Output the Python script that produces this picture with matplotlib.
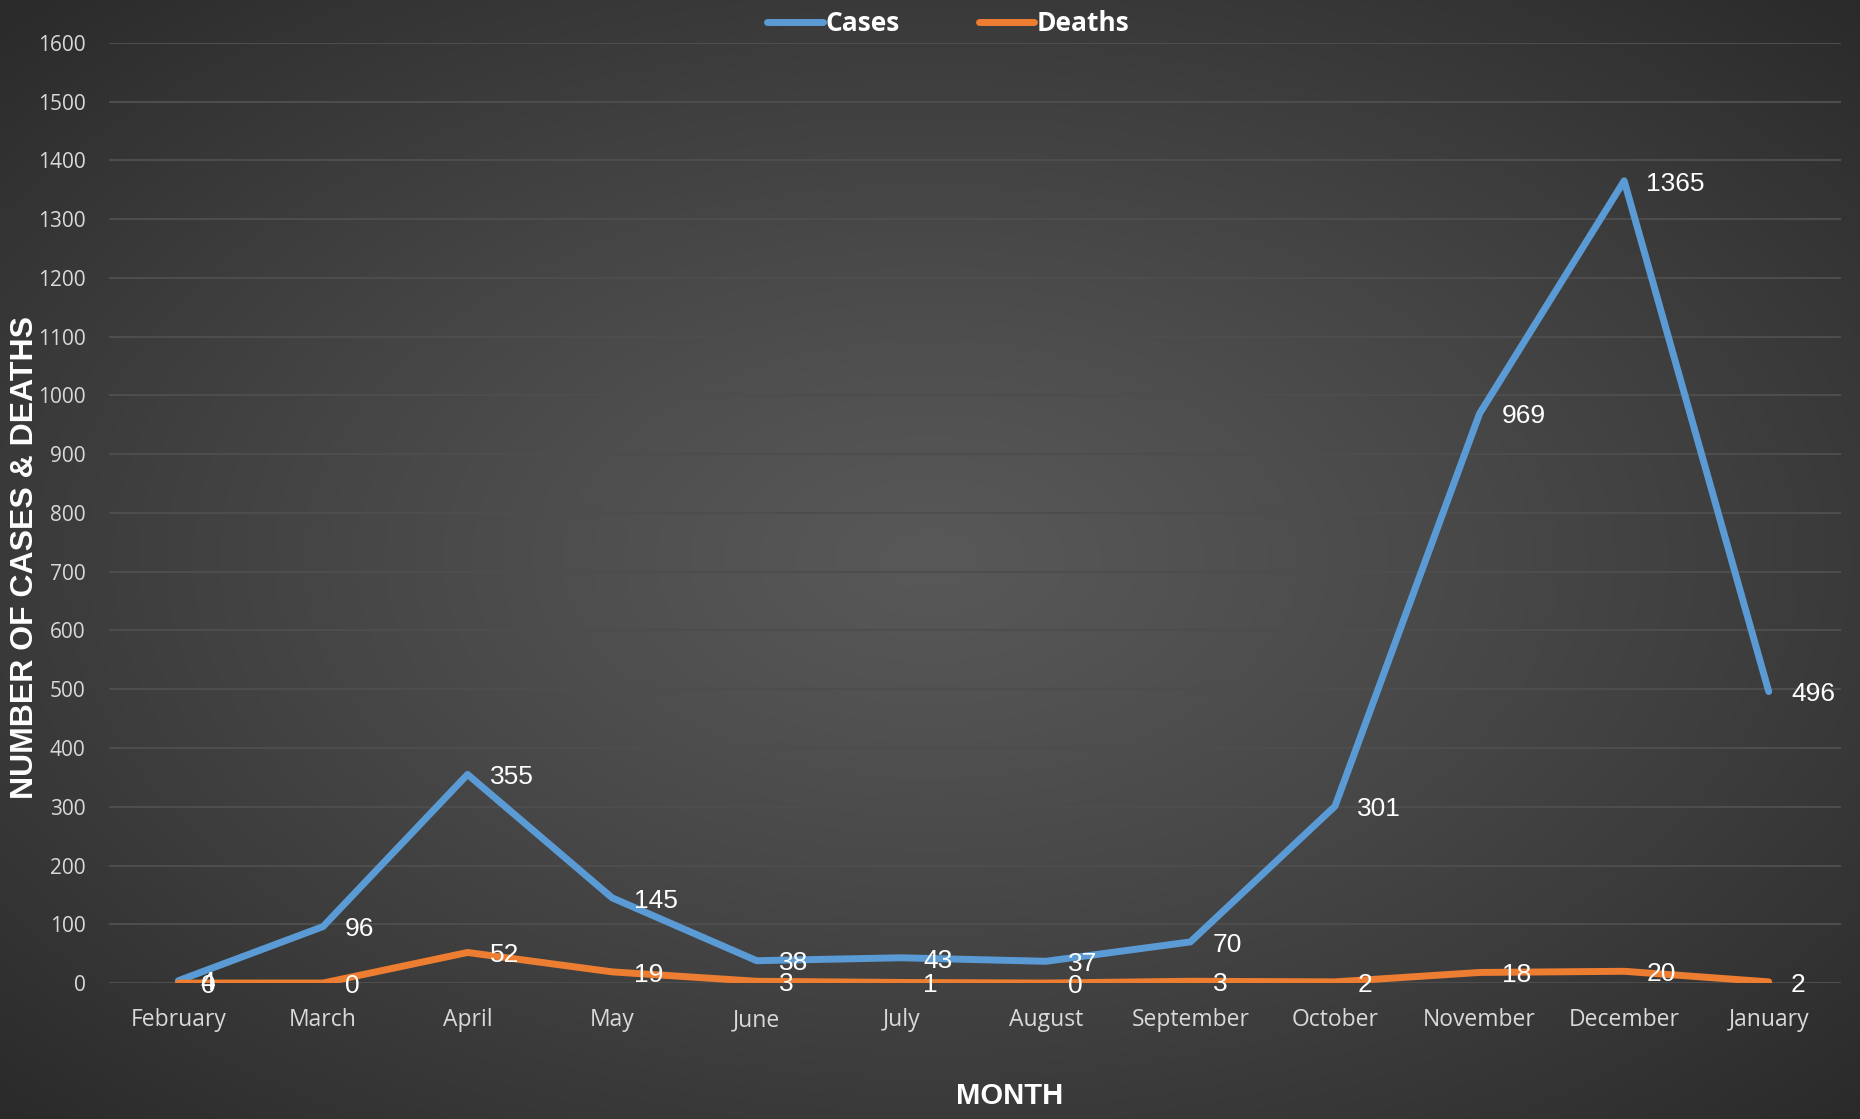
import numpy as np
import matplotlib
matplotlib.use("Agg")
import matplotlib.pyplot as plt
from matplotlib.lines import Line2D

# Datos
months = ["February", "March", "April", "May", "June", "July", "August",
          "September", "October", "November", "December", "January"]
cases = [4, 96, 355, 145, 38, 43, 37, 70, 301, 969, 1365, 496]
deaths = [0, 0, 52, 19, 3, 1, 0, 3, 2, 18, 20, 2]
y_ticks = list(range(0, 1700, 100))

BLUE = "#5b9bd5"
ORANGE = "#ed7d31"
TICK_COLOR = "#d9d9d9"
GRID_COLOR = "#4d4d4d"

fig = plt.figure(figsize=(18.6, 11.19), dpi=100)

# Fondo con degradado radial (más claro en el centro)
bg = fig.add_axes([0, 0, 1, 1], zorder=-10)
gx, gy = np.meshgrid(np.linspace(-1, 1, 400), np.linspace(-1, 1, 240))
r = np.sqrt(gx ** 2 + gy ** 2) / np.sqrt(2)
shade = 0.345 - 0.18 * np.clip(r, 0, 1) ** 1.2
img = np.dstack([shade, shade, shade])
bg.imshow(img, aspect="auto", extent=[0, 1, 0, 1], interpolation="bilinear")
bg.set_axis_off()

ax = fig.add_axes([0.0586, 0.1215, 0.9312, 0.8403])
ax.patch.set_alpha(0)
x = np.arange(len(months))

ax.plot(x, cases, color=BLUE, lw=5, solid_capstyle="round",
        solid_joinstyle="round", zorder=3)
ax.plot(x, deaths, color=ORANGE, lw=5, solid_capstyle="round",
        solid_joinstyle="round", zorder=3)

# Etiquetas de datos a la derecha de cada punto
for xi, c, d in zip(x, cases, deaths):
    ax.annotate(str(c), (xi, c), xytext=(16, -2), textcoords="offset points",
                ha="left", va="center", color="white", fontsize=19,
                family="Liberation Sans", zorder=4)
    ax.annotate(str(d), (xi, d), xytext=(16, -2), textcoords="offset points",
                ha="left", va="center", color="white", fontsize=19,
                family="Liberation Sans", zorder=4)

ax.set_xlim(-0.48, 11.5)
ax.set_ylim(0, 1600)
ax.set_yticks(y_ticks)
ax.set_xticks(x)
ax.set_xticklabels(months)
ax.grid(axis="y", color=GRID_COLOR, lw=1.5)
ax.set_axisbelow(True)
for s in ax.spines.values():
    s.set_visible(False)
ax.tick_params(length=0, colors=TICK_COLOR)
ax.tick_params(axis="y", pad=17, labelsize=15)
ax.tick_params(axis="x", pad=18, labelsize=16.5)
for lbl in ax.get_xticklabels() + ax.get_yticklabels():
    lbl.set_family("Open Sans")
    lbl.set_color(TICK_COLOR)

fig.text(0.543, 0.021, "MONTH", ha="center", va="center", color="white",
         fontsize=21, fontweight="bold", family="Liberation Sans")
fig.text(0.0135, 0.502, "NUMBER OF CASES & DEATHS", ha="center", va="center",
         rotation=90, color="white", fontsize=23, fontweight="bold",
         family="Liberation Sans")

handles = [Line2D([], [], color=BLUE, lw=5, solid_capstyle="round"),
           Line2D([], [], color=ORANGE, lw=5, solid_capstyle="round")]
leg = fig.legend(handles, ["Cases", "Deaths"], loc="center",
                 bbox_to_anchor=(0.51, 0.979), ncol=2, frameon=False,
                 handlelength=2.1, handletextpad=0.1, columnspacing=3.0,
                 prop={"family": "Open Sans", "weight": "bold", "size": 19})
for t in leg.get_texts():
    t.set_color("white")

fig.savefig("out.png", dpi=100)
